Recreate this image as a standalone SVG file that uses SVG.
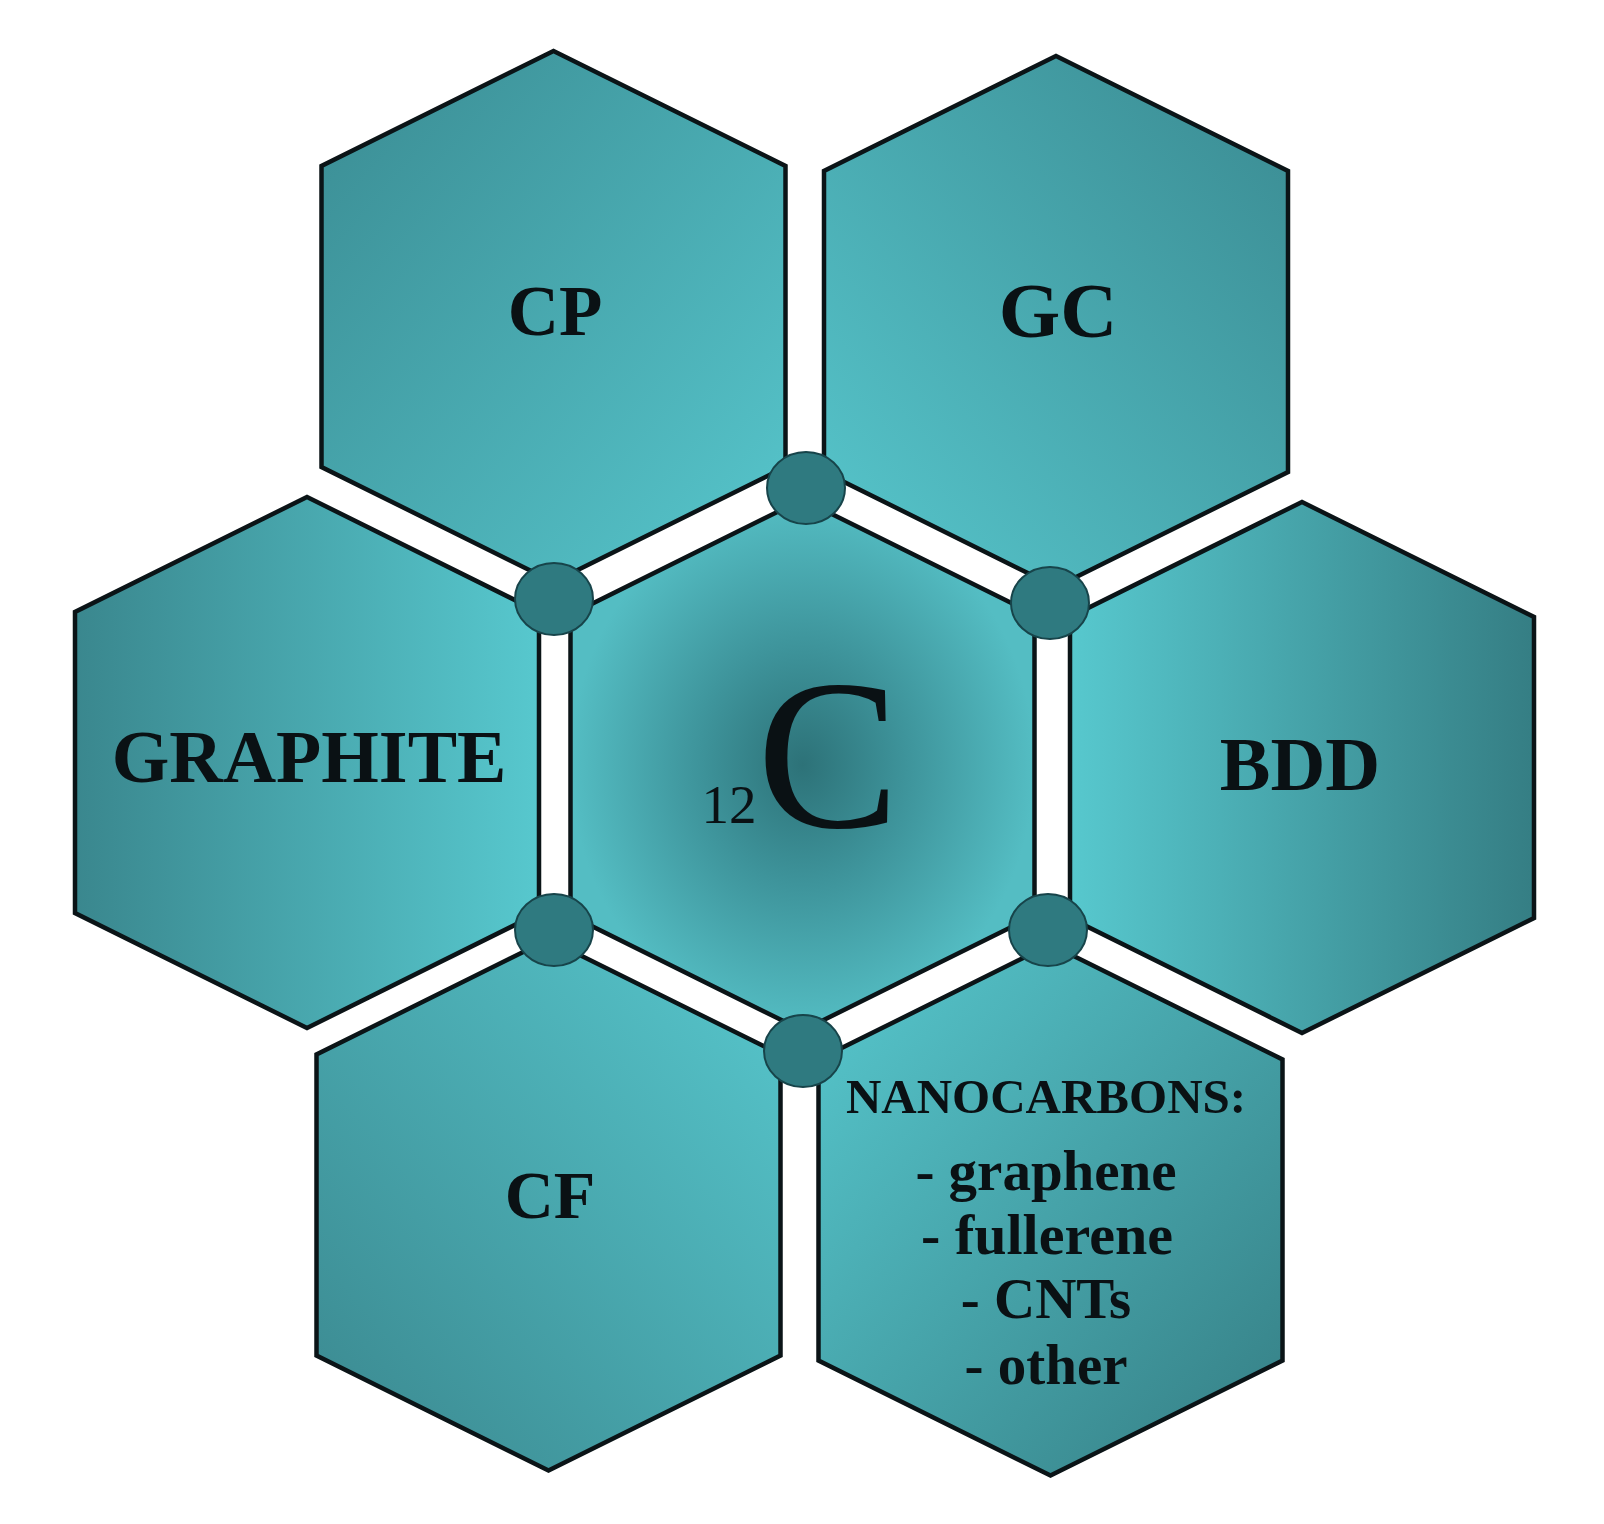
<svg xmlns="http://www.w3.org/2000/svg" xmlns:xlink="http://www.w3.org/1999/xlink" width="1604" height="1524" viewBox="0 0 1604 1524">
<style>
.hex{stroke:#0b1417;stroke-width:4.5;stroke-linejoin:miter}
.lbl{font-family:"Liberation Serif","Times New Roman",serif;font-weight:bold;fill:#0a1114;text-anchor:middle}
.atom{fill:#2f7a80;stroke:#17444a;stroke-width:2}
</style>
<defs>
<path id="hx" d="M0,-265.5 L232,-150.5 L232,150.5 L0,265.5 L-232,150.5 L-232,-150.5 Z"/>
<linearGradient id="gCP" x1="0" y1="0" x2="1" y2="1"><stop offset="0" stop-color="#3a8b92"/><stop offset="1" stop-color="#57c7cd"/></linearGradient>
<linearGradient id="gGC" x1="1" y1="0" x2="0" y2="1"><stop offset="0" stop-color="#3a8a91"/><stop offset="1" stop-color="#57c7cd"/></linearGradient>
<linearGradient id="gGR" x1="0" y1="0" x2="1" y2="0"><stop offset="0" stop-color="#3a878e"/><stop offset="1" stop-color="#57c8ce"/></linearGradient>
<linearGradient id="gBD" x1="0" y1="0" x2="1" y2="0"><stop offset="0" stop-color="#57c8ce"/><stop offset="1" stop-color="#357e84"/></linearGradient>
<linearGradient id="gCF" x1="0" y1="1" x2="1" y2="0"><stop offset="0" stop-color="#3a878e"/><stop offset="1" stop-color="#57c7cd"/></linearGradient>
<linearGradient id="gNA" x1="0" y1="0" x2="1" y2="1"><stop offset="0" stop-color="#57c8ce"/><stop offset="1" stop-color="#357e84"/></linearGradient>
<radialGradient id="gC" cx="0.5" cy="0.5" r="0.5"><stop offset="0" stop-color="#2d7278"/><stop offset="0.45" stop-color="#3e949b"/><stop offset="1" stop-color="#54bdc3"/></radialGradient>
</defs>
<rect width="1604" height="1524" fill="#ffffff"/>
<g id="node-cp"><use xlink:href="#hx" class="hex" x="553.5" y="316.5" fill="url(#gCP)"/><text class="lbl" x="555" y="335" font-size="71">CP</text></g>
<g id="node-gc"><use xlink:href="#hx" class="hex" x="1056" y="321.5" fill="url(#gGC)"/><text class="lbl" x="1058" y="337" font-size="79">GC</text></g>
<g id="node-graphite"><use xlink:href="#hx" class="hex" x="307" y="762.5" fill="url(#gGR)"/><text class="lbl" x="309" y="782" font-size="74">GRAPHITE</text></g>
<g id="node-center"><use xlink:href="#hx" class="hex" x="802.5" y="765" fill="url(#gC)"/><text x="729" y="823" font-family="Liberation Serif,'Times New Roman',serif" font-size="55" fill="#0a1114" text-anchor="middle">12</text><text x="828" y="827" font-family="Liberation Serif,'Times New Roman',serif" font-size="214" fill="#0a1114" text-anchor="middle">C</text></g>
<g id="node-bdd"><use xlink:href="#hx" class="hex" x="1302" y="767.5" fill="url(#gBD)"/><text class="lbl" x="1300" y="790" font-size="76">BDD</text></g>
<g id="node-cf"><use xlink:href="#hx" class="hex" x="548.5" y="1205" fill="url(#gCF)"/><text class="lbl" x="550" y="1218" font-size="68">CF</text></g>
<g id="node-nanocarbons"><use xlink:href="#hx" class="hex" x="1050.5" y="1210" fill="url(#gNA)"/>
<text class="lbl" x="1046" y="1113" font-size="49">NANOCARBONS:</text>
<text class="lbl" x="1046" y="1190" font-size="57">- graphene</text>
<text class="lbl" x="1047" y="1254" font-size="58">- fullerene</text>
<text class="lbl" x="1046" y="1318" font-size="57">- CNTs</text>
<text class="lbl" x="1046" y="1384" font-size="57">- other</text>
</g>
<g id="connectors">
<ellipse class="atom" cx="806" cy="488" rx="39" ry="36"/>
<ellipse class="atom" cx="554" cy="599" rx="39" ry="36"/>
<ellipse class="atom" cx="1050" cy="603" rx="39" ry="36"/>
<ellipse class="atom" cx="554" cy="930" rx="39" ry="36"/>
<ellipse class="atom" cx="1048" cy="930" rx="39" ry="36"/>
<ellipse class="atom" cx="803" cy="1051" rx="39" ry="36"/>
</g>
</svg>
